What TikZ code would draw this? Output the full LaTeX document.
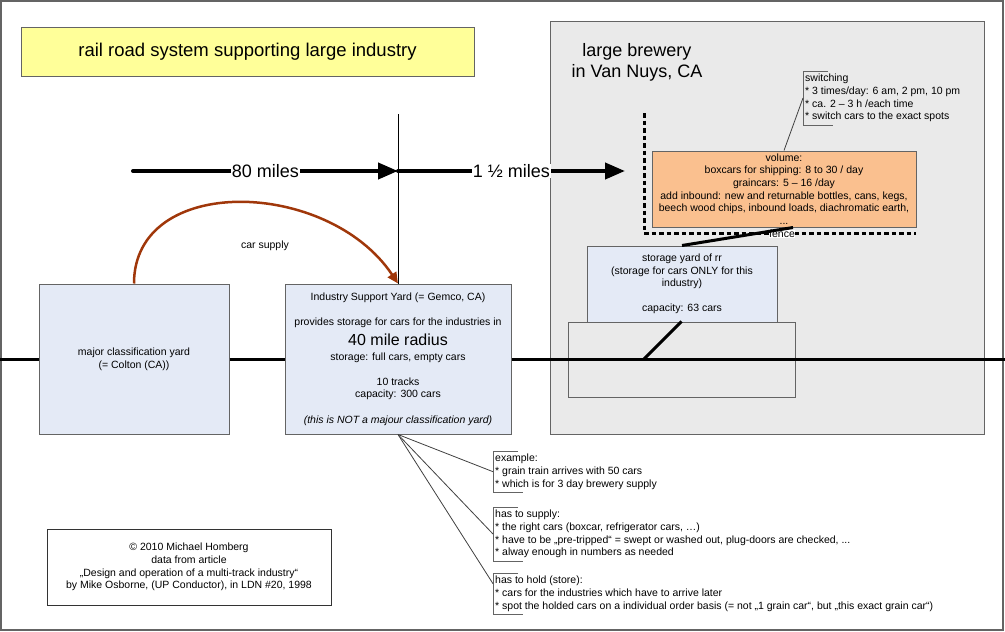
\documentclass[tikz,border=0pt]{standalone}
\usepackage{fontspec}
\setmainfont{Liberation Sans}
\usetikzlibrary{arrows.meta}
\definecolor{titleyellow}{RGB}{255,255,153}
\definecolor{yardblue}{RGB}{228,234,246}
\definecolor{volorange}{RGB}{250,192,143}
\definecolor{brewgray}{RGB}{234,234,234}
\definecolor{boxline}{RGB}{100,100,100}
\definecolor{supplybrown}{RGB}{160,55,10}
\newcommand{\notefont}{\fontsize{10.5}{12.6}\selectfont}
\newcommand{\bigfont}{\fontsize{18}{21}\selectfont}

\begin{document}
\begin{tikzpicture}[x=1pt, y=-1pt,
    box/.style={draw=boxline, line width=1pt, align=center, inner sep=0pt, font=\notefont},
    yard/.style={box, fill=yardblue},
    note/.style={anchor=north west, align=left, inner xsep=2pt, inner ysep=3pt, font=\notefont},
    track/.style={line width=3pt},
    bigarrow/.style={line width=4pt, line cap=round, -{Triangle[length=20pt,width=16pt]}},
    leader/.style={line width=0.8pt, black!75},
    milelabel/.style={fill=white, inner sep=0.5pt, font=\bigfont}]
    \useasboundingbox (0,0) rectangle (1005,632);
    \draw[boxline, line width=1.2pt] (1,1) rectangle (1003,630);

    \node[box, fill=titleyellow, minimum width=453pt, minimum height=49pt, font=\fontsize{18.5}{21}\selectfont] (title) at (247.5,51.5) {rail road system supporting large industry};

    \node[box, fill=brewgray, minimum width=434pt, minimum height=413pt] (brewery) at (767,227.5) {};
    \node[align=center, font=\bigfont] (brewname) at (637,62) {large brewery\\in Van Nuys, CA};

    \coordinate (fenceN) at (644,113);
    \coordinate (fenceC) at (644,233);
    \coordinate (fenceE) at (916,233);
    \draw[line width=3pt, dash pattern=on 4.5pt off 3pt] (fenceN) -- (fenceC) -- (fenceE);
    \node[fill=white, inner sep=0.5pt, font=\notefont] (fence) at (782,234) {fence};

    \node[box, fill=volorange, minimum width=264pt, minimum height=76pt] (volume) at (784,189) {volume:\\boxcars for shipping: 8 to 30 / day\\graincars: 5 – 16 /day\\add inbound: new and returnable bottles, cans, kegs,\\beech wood chips, inbound loads, diachromatic earth,\\...};
    \node[note] (switching) at (803,71) {switching\\{*} 3 times/day: 6 am, 2 pm, 10 pm\\{*} ca. 2 – 3 h /each time\\{*} switch cars to the exact spots};

    \node[box, fill=brewgray, minimum width=227pt, minimum height=75pt] (sidings) at (681.5,359.5) {};
    \node[yard, minimum width=190pt, minimum height=76pt] (storage) at (682,284) {storage yard of rr\\(storage for cars ONLY for this\\industry)\\[12.6pt]capacity: 63 cars};

    \node[yard, minimum width=190pt, minimum height=150pt] (classyard) at (134,359) {major classification yard\\(= Colton (CA))};
    \node[yard, minimum width=226pt, minimum height=150pt] (supportyard) at (398,359) {Industry Support Yard (= Gemco, CA)\\[12.6pt]provides storage for cars for the industries in\\[5pt]{\fontsize{16}{17}\selectfont 40 mile radius}\\[2pt]storage: full cars, empty cars\\[12.6pt]10 tracks\\capacity: 300 cars\\[12.6pt]\textit{(this is NOT a majour classification yard)}};

    \node[box, draw=black!80, minimum width=284pt, minimum height=76pt] (copyright) at (189,567) {© 2010 Michael Homberg\\data from article\\„Design and operation of a multi-track industry“\\by Mike Osborne, (UP Conductor), in LDN \#20, 1998};

    \node[note] (example) at (493,451) {example:\\{*} grain train arrives with 50 cars\\{*} which is for 3 day brewery supply};
    \node[note] (supply) at (493,507) {has to supply:\\{*} the right cars (boxcar, refrigerator cars, …)\\{*} have to be „pre-tripped“ = swept or washed out, plug-doors are checked, ...\\{*} alway enough in numbers as needed};
    \node[note] (hold) at (493,573) {has to hold (store):\\{*} cars for the industries which have to arrive later\\{*} spot the holded cars on a individual order basis (= not „1 grain car“, but „this exact grain car“)};

    \foreach \n in {switching, example, supply, hold}
        \draw[boxline, line width=0.8pt] ([xshift=25pt]\n.north west) -- (\n.north west) -- (\n.south west) -- ([xshift=30pt]\n.south west);
    \draw[leader] (switching.west) -- (volume.north);
    \draw[leader] (supportyard.south) -- (example.west);
    \draw[leader] (supportyard.south) -- (supply.west);
    \draw[leader] (supportyard.south) -- ([yshift=10pt]hold.west);

    \coordinate (trackW) at (0,359);
    \coordinate (trackE) at (1005,359);
    \coordinate (spur) at (644,359);
    \draw[track] (trackW) -- (classyard.west);
    \draw[track] (classyard.east) -- (supportyard.west);
    \draw[track] (supportyard.east) -- (trackE);
    \draw[track] (sidings.north) -- (spur);
    \draw[track] (storage.north) -- ([xshift=9pt]volume.south);

    \coordinate (origin) at (133,171);
    \coordinate (fork) at (398,171);
    \coordinate (mast) at (398,114);
    \coordinate (gate) at (625,171);
    \draw[bigarrow] (origin) -- node[milelabel] (miles80) {80 miles} (fork);
    \draw[bigarrow] (fork) -- node[milelabel] (mileshalf) {1 ½ miles} (gate);
    \draw[line width=1pt] (mast) -- (supportyard.north);

    \draw[supplybrown, line width=2.5pt, -{Triangle[length=11pt,width=10pt]}] (classyard.north) .. controls +(0,-110) and +(-70,-105) .. (supportyard.north);
    \node[font=\notefont] (carsupply) at (265,246) {car supply};
\end{tikzpicture}
\end{document}
